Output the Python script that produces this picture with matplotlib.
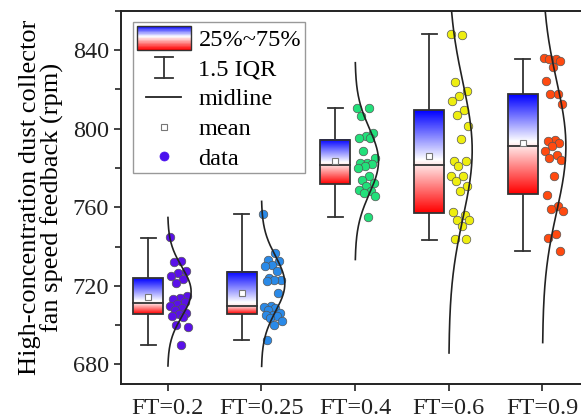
import numpy as np
import matplotlib
matplotlib.use("Agg")
import matplotlib.pyplot as plt
from matplotlib.colors import LinearSegmentedColormap
from matplotlib.legend_handler import HandlerBase
from matplotlib.patches import Rectangle
from matplotlib.lines import Line2D

plt.rcParams['font.family'] = ['Liberation Serif', 'DejaVu Serif']

# categories and colours
labels = ["FT=0.2", "FT=0.25", "FT=0.4", "FT=0.6", "FT=0.9"]
colors = ["#5a10e8", "#2a8ae8", "#22e07a", "#eeee10", "#ff4a10"]

# box statistics
q1 = [705.9, 705.5, 771.6, 757.1, 767.0]
med = [711.2, 709.6, 781.4, 781.4, 791.1]
q3 = [723.9, 727.2, 794.5, 809.3, 817.8]
means = [714.2, 716.4, 783.6, 786.3, 792.8]
whis_lo = [689.8, 692.6, 755.1, 743.2, 737.6]
whis_hi = [744.6, 756.6, 810.8, 848.0, 835.3]

# normal curve parameters (centre, sd)
curve_mu = [717.0, 721.0, 783.5, 789.0, 791.0]
curve_sd = [12.6, 14.0, 16.7, 34.4, 33.3]

# raw points
pts_02 = [744.7, 732.5, 732.2, 727.4, 726.6, 724.8, 723.5, 721.5, 715.0, 713.8,
          713.2, 711.8, 710.5, 709.6, 708.7, 707.9, 706.2, 705.5, 704.5, 704.0,
          699.9, 699.0, 690.0]
pts_025 = [756.8, 736.8, 733.0, 732.5, 730.8, 730.3, 727.4, 724.0, 723.2, 722.8,
           722.3, 716.4, 709.6, 709.2, 708.5, 707.9, 706.2, 705.3, 705.3, 704.5,
           703.6, 701.9, 700.2, 692.6]
pts_04 = [810.6, 810.6, 806.4, 797.9, 796.2, 795.4, 795.4, 788.5, 785.2, 782.6,
          782.6, 781.8, 780.9, 780.1, 775.8, 774.1, 772.4, 770.7, 769.0, 768.2,
          767.3, 765.6, 754.9]
pts_06 = [848.0, 847.5, 823.7, 819.1, 816.9, 814.0, 809.4, 807.2, 801.6, 795.0,
          783.4, 783.4, 780.9, 775.8, 775.8, 773.3, 770.7, 768.2, 757.5, 756.3,
          753.7, 753.7, 750.7, 743.9, 743.9]
pts_09 = [835.8, 835.3, 835.3, 834.4, 831.3, 824.2, 817.8, 817.8, 812.7, 794.5,
          793.6, 792.8, 791.1, 788.5, 786.5, 785.2, 784.3, 775.8, 766.5, 760.9,
          759.2, 758.3, 746.4, 744.4, 737.6]
points = [pts_02, pts_025, pts_04, pts_06, pts_09]

# 0 -> red, ~0.5 (median) -> white, 1 -> blue
grad_cmap = LinearSegmentedColormap.from_list(
    "rwb", [(0.0, "#ff0000"), (0.48, "#ffdcdc"), (0.55, "#ffffff"), (1.0, "#0000ff")])

box_off = -0.21
box_w = 0.32
cap_w = 0.16
curve_w = 0.25

fig = plt.figure(figsize=(5.81, 4.19), dpi=100)
ax = fig.add_axes([0.208, 0.0835, 0.795, 0.8905])

for i in range(len(labels)):
    x = i + 1
    bx = x + box_off
    # whiskers
    ax.plot([bx, bx], [whis_lo[i], q1[i]], color="#333333", lw=1.3, zorder=2)
    ax.plot([bx, bx], [q3[i], whis_hi[i]], color="#333333", lw=1.3, zorder=2)
    for w in (whis_lo[i], whis_hi[i]):
        ax.plot([bx - cap_w / 2, bx + cap_w / 2], [w, w], color="#333333", lw=1.3, zorder=2)
    # gradient box
    yy = np.linspace(q1[i], q3[i], 200)
    vals = np.interp(yy, [q1[i], med[i], q3[i]], [0.0, 0.5, 1.0])
    ax.imshow(vals[:, None], cmap=grad_cmap, vmin=0, vmax=1, aspect="auto", origin="lower",
              extent=[bx - box_w / 2, bx + box_w / 2, q1[i], q3[i]], zorder=3,
              interpolation="bilinear")
    ax.add_patch(Rectangle((bx - box_w / 2, q1[i]), box_w, q3[i] - q1[i], fill=False,
                           edgecolor="#333333", lw=1.3, zorder=4))
    ax.plot([bx - box_w / 2, bx + box_w / 2], [med[i], med[i]], color="#333333", lw=1.3, zorder=4)
    ax.plot(bx, means[i], marker="s", ms=4, mfc="white", mec="#777777", mew=0.8, zorder=5)
    # normal curve
    cy = np.linspace(curve_mu[i] - 3 * curve_sd[i], curve_mu[i] + 3 * curve_sd[i], 300)
    dens = np.exp(-0.5 * ((cy - curve_mu[i]) / curve_sd[i]) ** 2)
    ax.plot(x + curve_w * dens, cy, color="#222222", lw=1.2, zorder=6)
    # points
    p = np.array(points[i])
    frac = (np.arange(len(p)) * 0.618034) % 1.0
    ax.scatter(x + 0.02 + 0.2 * frac, p, s=38, color=colors[i], edgecolors="#555555",
               linewidths=0.5, zorder=5)

ax.set_xlim(0.5, 5.43)
ax.set_ylim(670, 860)
ax.set_xticks(range(1, 6))
ax.set_xticklabels(labels)
ax.set_yticks([680, 720, 760, 800, 840])
ax.set_yticks([700, 740, 780, 820, 860], minor=True)
ax.tick_params(axis="both", which="both", direction="out", length=5, width=1.2,
               labelsize=17.5, colors="#222222")
ax.tick_params(axis="y", which="minor", length=4)
ax.tick_params(axis="x", pad=5)
ax.spines["right"].set_visible(False)
for s in ("left", "bottom", "top"):
    ax.spines[s].set_linewidth(1.4)
    ax.spines[s].set_color("#222222")
ax.set_ylabel("High-concentration dust collector\nfan speed feedback (rpm)", fontsize=19,
              linespacing=1.0, labelpad=6)


class GradHandler(HandlerBase):
    def create_artists(self, legend, orig_handle, xd, yd, width, height, fontsize, trans):
        n = 40
        arts = []
        for k in range(n):
            v = 1 - (k + 0.5) / n
            arts.append(Rectangle((-xd, -yd + height * (n - k - 1) / n), width, height / n,
                                  facecolor=grad_cmap(v), edgecolor="none", transform=trans))
        arts.append(Rectangle((-xd, -yd), width, height, fill=False, edgecolor="#333333",
                              lw=1.0, transform=trans))
        return arts


class WhiskerHandler(HandlerBase):
    def create_artists(self, legend, orig_handle, xd, yd, width, height, fontsize, trans):
        cx = -xd + width / 2
        y0, y1 = -yd + 0.05 * height, -yd + 0.95 * height
        c = width * 0.17
        kw = dict(color="#333333", lw=1.3, transform=trans)
        return [Line2D([cx, cx], [y0, y1], **kw), Line2D([cx - c, cx + c], [y0, y0], **kw),
                Line2D([cx - c, cx + c], [y1, y1], **kw)]


class MidHandler(HandlerBase):
    def create_artists(self, legend, orig_handle, xd, yd, width, height, fontsize, trans):
        cy = -yd + height / 2
        return [Line2D([-xd + 0.18 * width, -xd + 0.82 * width], [cy, cy], color="#222222",
                       lw=1.3, transform=trans)]


class MarkHandler(HandlerBase):
    def create_artists(self, legend, orig_handle, xd, yd, width, height, fontsize, trans):
        m = Line2D([-xd + width / 2], [-yd + height / 2], linestyle="none",
                   marker=orig_handle.get_marker(), ms=orig_handle.get_markersize(),
                   mfc=orig_handle.get_markerfacecolor(), mec=orig_handle.get_markeredgecolor(),
                   mew=orig_handle.get_markeredgewidth(), transform=trans)
        return [m]


h_box = Rectangle((0, 0), 1, 1)
h_whis = Line2D([], [])
h_mid = Line2D([], [], color="k")
h_mean = Line2D([], [], marker="s", ms=4, mfc="white", mec="#777777", mew=0.8)
h_data = Line2D([], [], marker="o", ms=6.5, mfc="#4a10ee", mec="#4a10ee", mew=0.5)

leg = ax.legend([h_box, h_whis, h_mid, h_mean, h_data],
                ["25%~75%", "1.5 IQR", "midline", "mean", "data"],
                handler_map={h_box: GradHandler(), h_whis: WhiskerHandler(),
                             h_mid: MidHandler(), h_mean: MarkHandler(), h_data: MarkHandler()},
                loc="upper left", bbox_to_anchor=(0.026, 0.97), borderaxespad=0,
                fontsize=17.5, handlelength=2.25, handleheight=1.15, labelspacing=0.18,
                handletextpad=0.3, borderpad=0.15, fancybox=False, framealpha=1,
                edgecolor="#999999")
leg.get_frame().set_linewidth(1.0)
leg.set_zorder(10)

fig.savefig("out.png", dpi=100)
